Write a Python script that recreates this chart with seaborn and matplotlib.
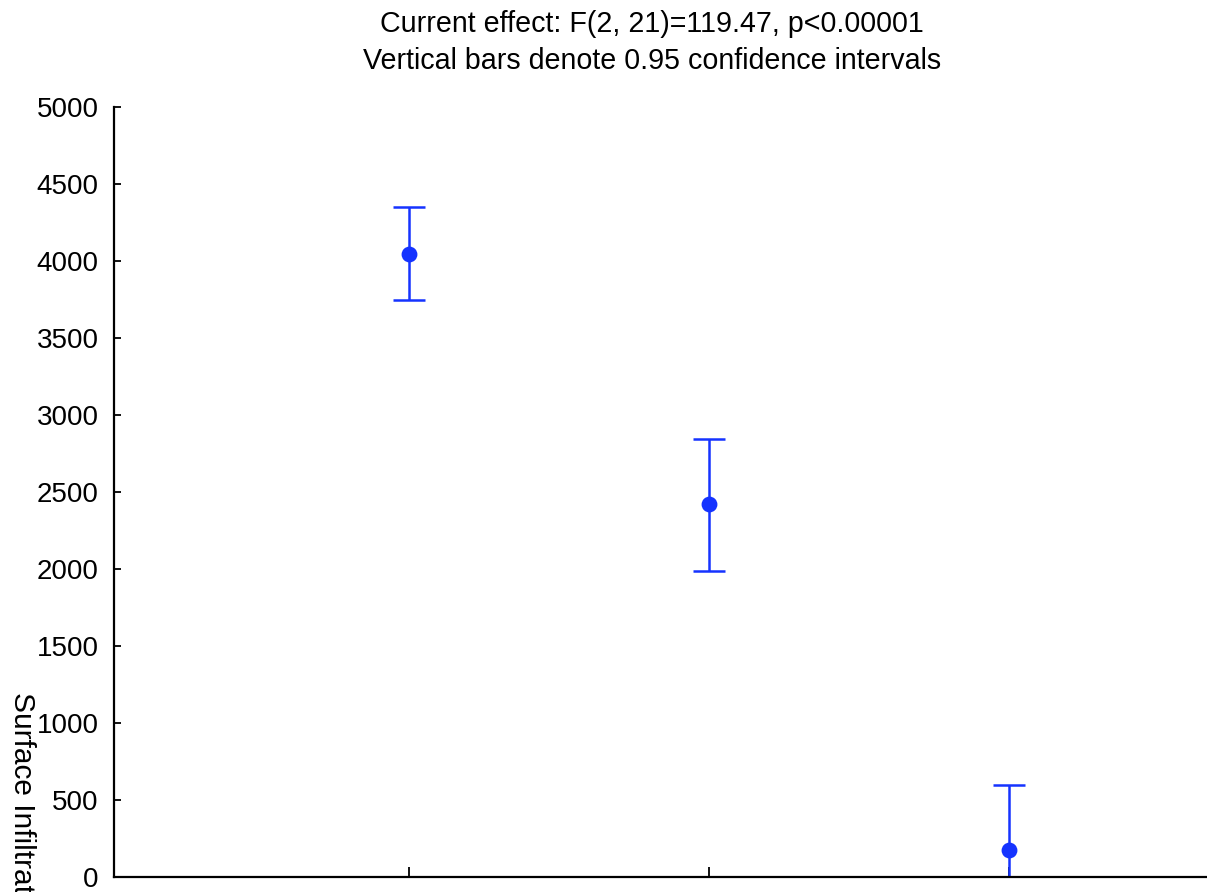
import matplotlib
matplotlib.use("Agg")
import matplotlib.pyplot as plt
import seaborn as sns
import pandas as pd

# Group means and 95% confidence limits
groups = ["A", "B", "C"]
means = [4045, 2422, 175]
ci_low = [3747, 1987, -247]
ci_high = [4351, 2844, 597]
y_ticks = list(range(0, 5001, 500))

sns.set_theme(style="ticks")
plt.rcParams["font.family"] = ["Liberation Sans", "DejaVu Sans"]
plt.rcParams["text.color"] = "black"
plt.rcParams["ytick.color"] = "black"
plt.rcParams["xtick.color"] = "black"

blue = "#1533ff"
fig = plt.figure(figsize=(12.07, 8.92), dpi=100)
ax = fig.add_axes([114 / 1207, 15 / 892, 1 - 114 / 1207, (877 - 107) / 892])

pos = list(range(len(groups)))
df = pd.DataFrame({"x": pos, "mean": means})

err_lo = [m - lo for m, lo in zip(means, ci_low)]
err_hi = [hi - m for m, hi in zip(means, ci_high)]
ax.errorbar(pos, means, yerr=[err_lo, err_hi], fmt="none", ecolor=blue,
            elinewidth=1.8, capsize=11.5, capthick=1.8, zorder=2, clip_on=True)
sns.scatterplot(data=df, x="x", y="mean", ax=ax, color=blue, s=130,
                edgecolor=blue, linewidth=0, zorder=3, legend=False)

ax.set_xlim(-0.983, 2.66)
ax.set_ylim(0, 5000)
ax.set_yticks(y_ticks)
ax.set_xticks(pos)
ax.set_xticklabels([])
ax.set_xlabel("")
ax.set_ylabel("")
ax.tick_params(axis="both", direction="in", length=5, width=1.3, color="black",
               labelsize=20, labelcolor="black", pad=11)
ax.tick_params(axis="x", length=7)
for s in ["top", "right"]:
    ax.spines[s].set_visible(False)
for s in ["left", "bottom"]:
    ax.spines[s].set_linewidth(1.6)
    ax.spines[s].set_color("black")

fig.text(652 / 1207, 1 - 32 / 892, "Current effect: F(2, 21)=119.47, p<0.00001",
         ha="center", va="baseline", fontsize=20.6)
fig.text(652 / 1207, 1 - 69 / 892, "Vertical bars denote 0.95 confidence intervals",
         ha="center", va="baseline", fontsize=20.6)
fig.text(8 / 1207, 1 - 692 / 892, "Surface Infiltration", rotation=270,
         ha="left", va="top", fontsize=21.5)

fig.savefig("out.png", dpi=100)
